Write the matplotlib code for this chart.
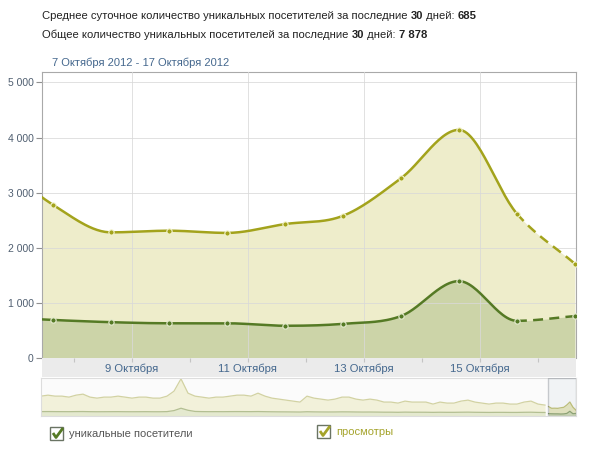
import numpy as np
import matplotlib.pyplot as plt
from matplotlib.patches import Rectangle
from matplotlib.ticker import FuncFormatter

# daily points (day of October, off-screen point first)
days = [6.64, 7.64, 8.64, 9.64, 10.64, 11.64, 12.64, 13.64, 14.64, 15.64, 16.64]
views = [3600, 2780, 2280, 2310, 2270, 2430, 2580, 3260, 4140, 2620, 1710]
unique = [740, 690, 650, 630, 630, 585, 620, 760, 1395, 675, 760]

tick_days = [9, 11, 13, 15]
tick_labels = ['9 Октября', '11 Октября', '13 Октября', '15 Октября']

# long-range navigator series (older history, left of the selection)
nav_views = [5880, 6170, 5880, 5880, 5590, 6170, 6470, 5590, 5290, 5590,
             5590, 5880, 5590, 5290, 5590, 5590, 5290, 5290, 5880, 7350,
             11000, 6760, 5880, 5590, 5290, 5590, 5590, 5880, 6170, 6170,
             5880, 6760, 5880, 5290, 5000, 4700, 4410, 4120, 5880, 5290,
             5000, 4700, 5000, 5590, 5590, 5000, 4700, 5000, 4700, 4120,
             4120, 3820, 4410, 4120, 4120, 4120, 3530, 4120, 3820, 3820,
             4410, 4700, 4120, 3820, 3530, 3820, 3820, 3530, 3530, 4120,
             4410, 3530, 3230]
nav_unique = [1300, 1320, 1300, 1290, 1280, 1310, 1320, 1280, 1260, 1270,
              1280, 1290, 1270, 1260, 1270, 1280, 1260, 1260, 1300, 1600,
              2300, 1700, 1350, 1300, 1280, 1290, 1280, 1300, 1310, 1300,
              1290, 1320, 1280, 1250, 1230, 1220, 1200, 1180, 1260, 1220,
              1200, 1190, 1200, 1230, 1220, 1190, 1170, 1180, 1160, 1130,
              1130, 1100, 1150, 1120, 1120, 1110, 1080, 1110, 1090, 1090,
              1120, 1140, 1100, 1080, 1060, 1080, 1080, 1060, 1060, 1100,
              1120, 1060, 1040]

W, H = 593, 451
C_VIEWS = '#a3a31c'
C_UNIQ = '#557a25'
C_BLUE = '#45688e'
FONT = 'Liberation Sans'


def box(l, t, r, b):
    return [l / W, 1 - b / H, (r - l) / W, (b - t) / H]


def smooth(x, y, n=30):
    # monotone-ish cubic hermite, flat at local extremes
    x = np.asarray(x, float)
    y = np.asarray(y, float)
    d = np.diff(y) / np.diff(x)
    m = np.zeros_like(y)
    m[0], m[-1] = d[0], d[-1]
    for i in range(1, len(y) - 1):
        if d[i - 1] * d[i] > 0:
            m[i] = (d[i - 1] + d[i]) / 2
    xs, ys = [], []
    for i in range(len(x) - 1):
        t = np.linspace(0, 1, n)
        h = x[i + 1] - x[i]
        yy = ((2 * t**3 - 3 * t**2 + 1) * y[i] + (t**3 - 2 * t**2 + t) * h * m[i]
              + (-2 * t**3 + 3 * t**2) * y[i + 1] + (t**3 - t**2) * h * m[i + 1])
        xs.append(x[i] + t * h)
        ys.append(yy)
    return np.concatenate(xs), np.concatenate(ys)


fig = plt.figure(figsize=(W / 100, H / 100), dpi=100)

# ---- main chart
ax = fig.add_axes(box(42, 72, 576, 358))
x0, x1 = 7.45, 16.66
ax.set_xlim(x0, x1)
ax.set_ylim(0, 5190)

xv, yv = smooth(days, views)
xu, yu = smooth(days, unique)
ax.fill_between(xv, yv, 0, color='#eeedcb', lw=0, zorder=1)
ax.fill_between(xu, yu, 0, color='#ccd4a8', lw=0, zorder=1.1)

split = days[-2]
for xs, ys, c in [(xv, yv, C_VIEWS), (xu, yu, C_UNIQ)]:
    solid = xs <= split
    ax.plot(xs[solid], ys[solid], color=c, lw=1.8, zorder=3, solid_capstyle='round')
    ax.plot(xs[xs >= split], ys[xs >= split], color=c, lw=1.8, zorder=3,
            dashes=(4, 2.5))
ax.plot(days, views, 'o', color=C_VIEWS, ms=3.8, mec='#f4f4d0', mew=0.8, zorder=4)
ax.plot(days, unique, 'o', color=C_UNIQ, ms=3.8, mec='#e6ecd0', mew=0.8, zorder=4)

ax.set_xticks(tick_days)
ax.set_yticks(range(0, 5001, 1000))
ax.grid(True, color='#d9d9d9', lw=0.7, alpha=0.8, zorder=2)
ax.set_axisbelow(False)
ax.tick_params(axis='x', length=0, labelbottom=False)
ax.tick_params(axis='y', length=4, color='#909090', width=0.8, pad=2,
               labelsize=7.5, labelcolor='#4f5e70')
ax.yaxis.set_major_formatter(FuncFormatter(lambda v, p: f'{int(v):,}'.replace(',', ' ')))
for lab in ax.get_yticklabels():
    lab.set_family(FONT)
for s in ['top', 'left', 'right']:
    ax.spines[s].set_color('#a9a9a9')
    ax.spines[s].set_linewidth(0.8)
ax.spines['bottom'].set_visible(False)

# ---- date label band
band = fig.add_axes(box(42, 358, 576, 377), sharex=ax)
band.set_facecolor('#ebebeb')
band.set_ylim(0, 1)
band.set_yticks([])
band.set_xticks(tick_days)
band.set_xticks([8, 10, 12, 14, 16], minor=True)
band.tick_params(axis='x', which='both', direction='in', top=True, bottom=False,
                 labelbottom=False, length=3, color='#c4c4c4', width=0.8)
for d, lab in zip(tick_days, tick_labels):
    band.text(d, 0.45, lab, ha='center', va='center', fontsize=8.1,
              color=C_BLUE, family=FONT)
for s in band.spines.values():
    s.set_visible(False)

# ---- navigator
nav = fig.add_axes(box(41, 378, 576, 416))
nav.set_facecolor('#fbfbfb')
nav_x = np.linspace(-159.4, 6.46, len(nav_views))
nav.set_xlim(-159.4, x1)
nav.set_ylim(0, 11250)
nav.fill_between(nav_x, nav_views, 0, color='#f2f1da', lw=0)
nav.plot(nav_x, nav_views, color='#d2d2a2', lw=0.9)
nav.fill_between(nav_x, nav_unique, 0, color='#e4e9cf', lw=0)
nav.plot(nav_x, nav_unique, color='#b3bf92', lw=0.9)
sel_x = days[1:]
nav.fill_between(sel_x, views[1:], 0, color='#e0dea4', lw=0)
nav.plot(sel_x, views[1:], color='#a9a83c', lw=0.9)
nav.fill_between(sel_x, unique[1:], 0, color='#bcc995', lw=0)
nav.plot(sel_x, unique[1:], color='#5f7d35', lw=0.9)
nav.add_patch(Rectangle((x0, 0), x1 - x0, 11250, facecolor='#dfe5ec', alpha=0.35,
                        edgecolor='#6b737b', lw=1, zorder=5))
nav.set_xticks([])
nav.set_yticks([])
for s in nav.spines.values():
    s.set_color('#dddddd')
    s.set_linewidth(0.8)

# ---- texts and legend (pixel overlay)
ov = fig.add_axes([0, 0, 1, 1], zorder=10)
ov.set_xlim(0, W)
ov.set_ylim(H, 0)
ov.axis('off')
renderer = fig.canvas.get_renderer()


def runs(x, y, parts):
    for s, w in parts:
        t = ov.text(x, y, s, fontsize=8.1, fontweight=w, color='#222222',
                    va='center', ha='left', family=FONT)
        x += t.get_window_extent(renderer=renderer).width


runs(42, 16, [('Среднее суточное количество уникальных посетителей за последние ', 'normal'),
              ('30', 'bold'), (' дней: ', 'normal'), ('685', 'bold')])
runs(42, 35, [('Общее количество уникальных посетителей за последние ', 'normal'),
              ('30', 'bold'), (' дней: ', 'normal'), ('7 878', 'bold')])
ov.text(52, 63, '7 Октября 2012 - 17 Октября 2012', fontsize=8.0, color=C_BLUE,
        va='center', ha='left', family=FONT)

for bx, by, ck, label, tc in [(50, 427, C_UNIQ, 'уникальные посетители', '#555555'),
                              (317, 425, '#a4a32a', 'просмотры', '#a4a32a')]:
    ov.add_patch(Rectangle((bx, by), 13, 13, facecolor='white', edgecolor='#6a7464', lw=1))
    ov.plot([bx + 3, bx + 6, bx + 13], [by + 6, by + 10.5, by + 1], color=ck, lw=2,
            solid_capstyle='butt')
    ov.text(bx + 19, by + 7, label, fontsize=8.0, color=tc, va='center', ha='left',
            family=FONT)

fig.savefig('out.png', dpi=100)
